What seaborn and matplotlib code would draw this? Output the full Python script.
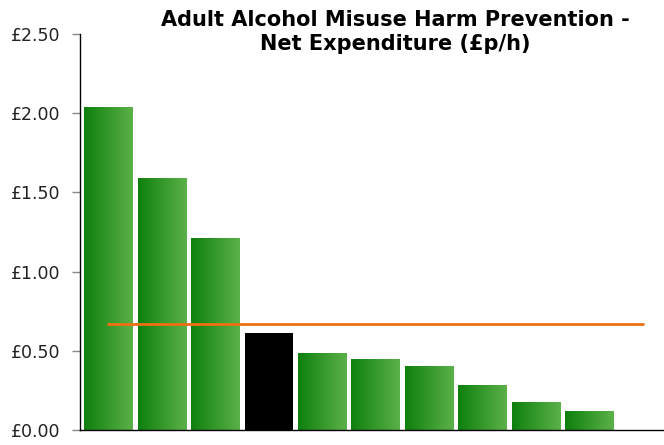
import numpy as np
import pandas as pd
import matplotlib
matplotlib.use("Agg")
import matplotlib.pyplot as plt
import seaborn as sns
from matplotlib.colors import LinearSegmentedColormap

# -----------------------------
# Data
# -----------------------------

areas = ["A", "B", "C", "D", "E", "F", "G", "H", "I", "J"]
net_spend = [2.04, 1.59, 1.21, 0.61, 0.486, 0.448, 0.404, 0.284, 0.177, 0.12]
highlight = "D"
average_value = 0.669
yticks = [0.0, 0.5, 1.0, 1.5, 2.0, 2.5]
ytick_labels = ["£0.00", "£0.50", "£1.00", "£1.50", "£2.00", "£2.50"]

data = pd.DataFrame({"area": areas, "spend": net_spend})

# -----------------------------
# Plot
# -----------------------------

sns.set_style("white")
plt.rcParams["font.family"] = ["DejaVu Sans"]

fig = plt.figure(figsize=(6.64, 4.45), dpi=100)
ax = fig.add_axes([0.1205, 0.0337, 0.8795, 0.89])

palette = ["black" if a == highlight else "#3a9a2e" for a in areas]
sns.barplot(data=data, x="area", y="spend", hue="area", palette=palette,
            legend=False, width=0.9, ax=ax, saturation=1, linewidth=0)

# gradient fill on the green bars
green_grad = LinearSegmentedColormap.from_list("g", ["#0e800e", "#5cb149"])
grad = np.linspace(0, 1, 256).reshape(1, -1)
for patch, a in zip(ax.patches, areas):
    if a == highlight:
        continue
    x0, y0 = patch.get_x(), patch.get_y()
    w, h = patch.get_width(), patch.get_height()
    im = ax.imshow(grad, cmap=green_grad, aspect="auto",
                   extent=[x0, x0 + w, y0, y0 + h], zorder=patch.get_zorder() + 0.1)
    im.set_clip_path(patch)

# average line
ax.plot([0, len(areas)], [average_value, average_value],
        color="#ee7011", linewidth=2, zorder=5)

ax.set_xlim(-0.53, 10.4)
ax.set_ylim(0, 2.5)
ax.set_yticks(yticks)
ax.set_yticklabels(ytick_labels, fontsize=12.5, color="#222222")
ax.set_xticks([])
ax.set_xlabel("")
ax.set_ylabel("")

ax.tick_params(axis="y", left=True, length=6, width=1, color="#888888", pad=8)
for side in ["top", "right"]:
    ax.spines[side].set_visible(False)
ax.spines["left"].set_color("black")
ax.spines["bottom"].set_color("black")
ax.spines["left"].set_linewidth(1)
ax.spines["bottom"].set_linewidth(1)

fig.text(0.595, 0.978, "Adult Alcohol Misuse Harm Prevention -\nNet Expenditure (£p/h)",
         ha="center", va="top", fontsize=15, fontweight="bold", linespacing=1.25,
         color="black")

fig.savefig("out.png", dpi=100)
